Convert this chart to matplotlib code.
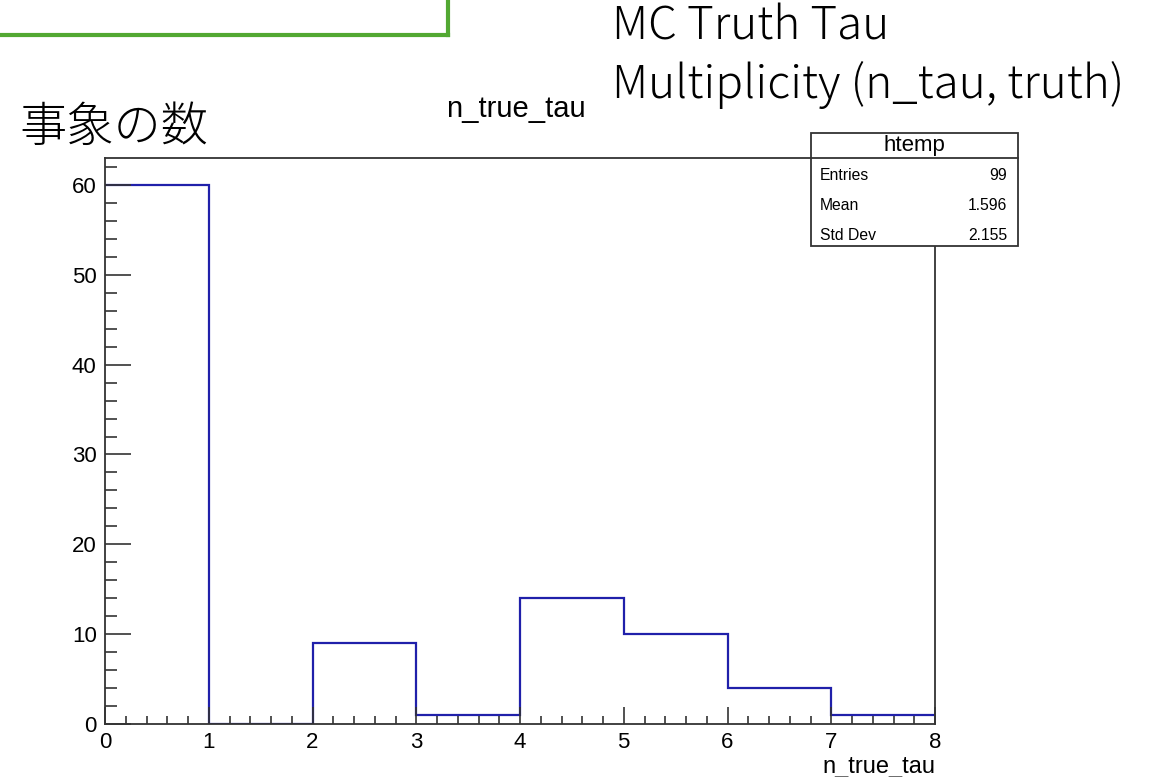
import numpy as np
import matplotlib.pyplot as plt
from matplotlib.patches import Rectangle
from matplotlib.lines import Line2D
from matplotlib.ticker import MultipleLocator

# n_true_tau histogram contents, one entry per unit bin
bin_edges = [0, 1, 2, 3, 4, 5, 6, 7, 8]
counts = [60, 0, 9, 1, 14, 10, 4, 1]

stats_rows = [('Entries', '99'), ('Mean', '1.596'), ('Std Dev', '2.155')]
title_lines = ['MC Truth Tau', 'Multiplicity (n_tau, truth)']

W, H = 1168, 777
fig = plt.figure(figsize=(W / 100, H / 100), dpi=100)


def fx(px):
    return px / W


def fy(py):
    return 1 - py / H


ax = fig.add_axes([fx(105), fy(724), fx(935) - fx(105), fy(158) - fy(724)])
ax.stairs(counts, bin_edges, color='#2020aa', linewidth=1.6, baseline=None)
ax.set_xlim(0, 8)
ax.set_ylim(0, 63)

ax.xaxis.set_major_locator(MultipleLocator(1))
ax.xaxis.set_minor_locator(MultipleLocator(0.2))
ax.yaxis.set_major_locator(MultipleLocator(10))
ax.yaxis.set_minor_locator(MultipleLocator(2))
ax.tick_params(which='both', direction='in', top=False, right=False,
               color='#333333', width=1.2)
ax.tick_params(axis='y', which='major', length=18.5, labelsize=16, pad=6)
ax.tick_params(axis='y', which='minor', length=8.5)
ax.tick_params(axis='x', which='major', length=12.5, labelsize=16, pad=6)
ax.tick_params(axis='x', which='minor', length=6)
for s in ax.spines.values():
    s.set_linewidth(1.3)
    s.set_color('#333333')

ax.set_xlabel('n_true_tau', fontsize=17, loc='right', labelpad=2,
              family='Liberation Sans')
for lab in ax.get_xticklabels() + ax.get_yticklabels():
    lab.set_family('Liberation Sans')

# stats box
bx0, by0, bx1, by1 = 811, 133, 1018, 246
fig.patches.append(Rectangle((fx(bx0), fy(by1)), fx(bx1) - fx(bx0), fy(by0) - fy(by1),
                             transform=fig.transFigure, facecolor='white',
                             edgecolor='#333333', linewidth=1.3, zorder=5))
fig.lines.append(Line2D([fx(bx0), fx(bx1)], [fy(158), fy(158)], transform=fig.transFigure,
                        color='#333333', linewidth=1.3, zorder=6))
fig.text(fx((bx0 + bx1) / 2), fy(146), 'htemp', ha='center', va='center', fontsize=16,
         family='Liberation Sans', zorder=7)
for i, (name, val) in enumerate(stats_rows):
    yy = 176 + i * 29.5
    fig.text(fx(820), fy(yy), name, ha='left', va='center', fontsize=11.3,
             family='Liberation Sans', zorder=7)
    fig.text(fx(1007), fy(yy), val, ha='right', va='center', fontsize=11.3,
             family='Liberation Sans', zorder=7)

# histogram title and annotations
fig.text(fx(446), fy(117), 'n_true_tau', ha='left', va='baseline', fontsize=21,
         family='Liberation Sans')
fig.text(fx(19), fy(127), '事象の数', ha='left', va='center', fontsize=34,
         fontweight='light', family=['Noto Sans CJK JP', 'DejaVu Sans'])
for i, line in enumerate(title_lines):
    fig.text(fx(612), fy(40 + i * 58), line, ha='left', va='baseline', fontsize=33,
             fontweight='light', family=['Noto Sans CJK JP', 'DejaVu Sans'])

# green frame edge in the upper left
green = '#52a832'
fig.lines.append(Line2D([0, fx(448)], [fy(35), fy(35)], transform=fig.transFigure,
                        color=green, linewidth=3))
fig.lines.append(Line2D([fx(448), fx(448)], [fy(35), 1.0], transform=fig.transFigure,
                        color=green, linewidth=3))

fig.savefig('out.png', dpi=100)
